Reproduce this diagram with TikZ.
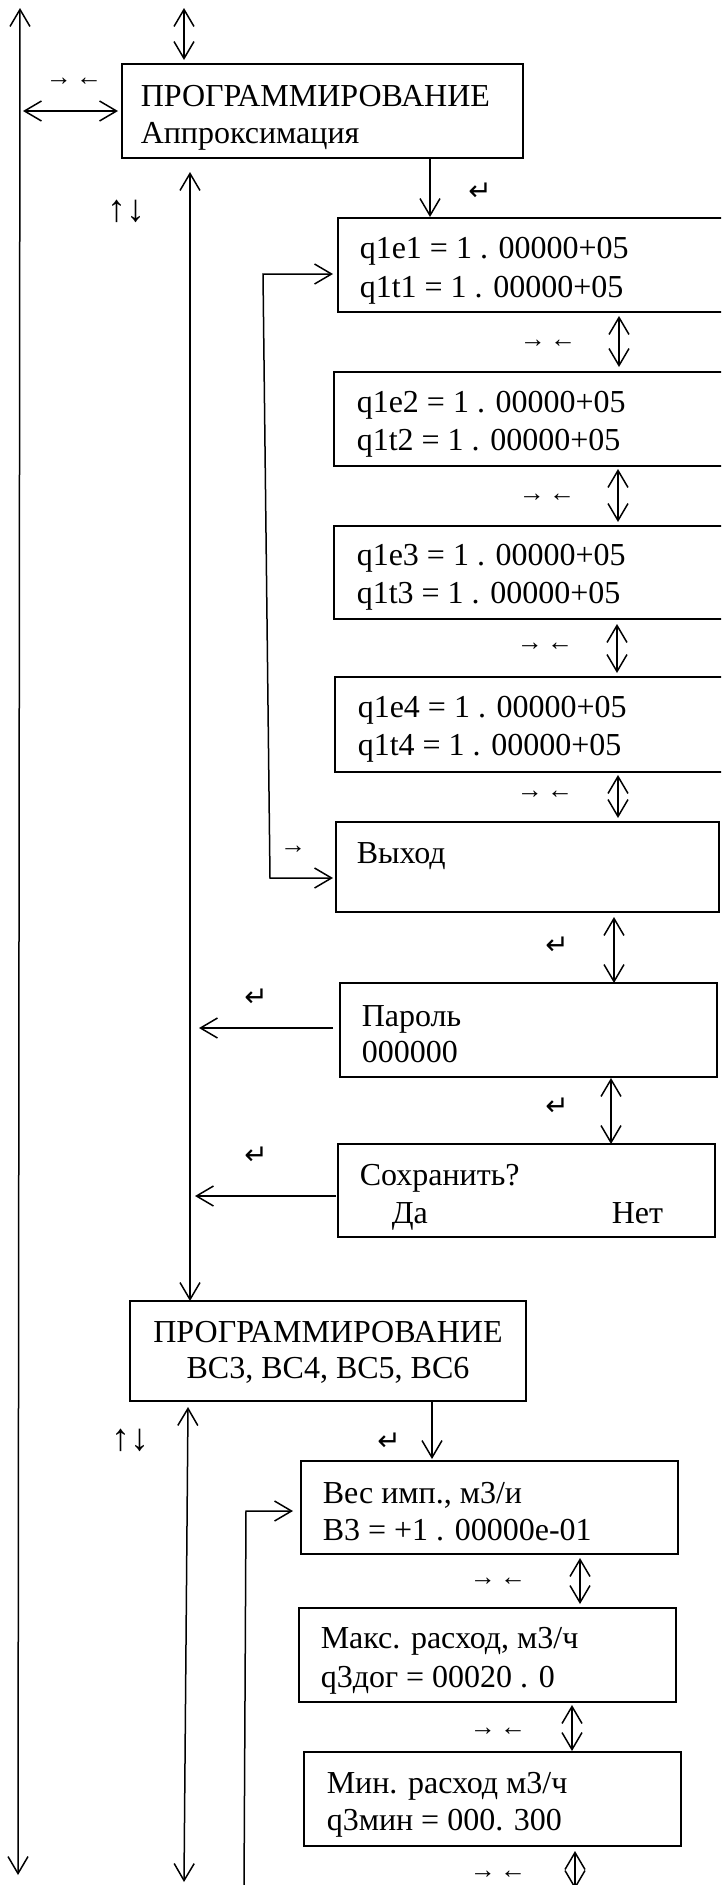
\documentclass[tikz,border=0pt]{standalone}
\usepackage{fontspec}
\setmainfont{Liberation Serif}
\newfontfamily\symfont{DejaVu Sans}
\usetikzlibrary{arrows.meta}
\begin{document}
\begin{tikzpicture}[x=1pt,y=-1pt,
  line width=1.5pt,
  >={Straight Barb[length=17pt,width=20pt]},
  box/.style={draw, line width=1.8pt, rectangle, inner sep=0pt, outer sep=0pt, anchor=north west},
  txt/.style={inner sep=0pt, anchor=base west, font=\fontsize{32}{38}\selectfont},
  ctxt/.style={inner sep=0pt, anchor=base, font=\fontsize{32}{38}\selectfont},
  keys/.style={inner sep=0pt, font=\fontsize{26}{28}\selectfont},
  updn/.style={inner sep=0pt, font=\fontsize{38}{40}\selectfont},
  ent/.style={inner sep=0pt, font=\symfont\fontsize{28}{30}\selectfont},
]
\useasboundingbox (0,0) rectangle (721,1885);
\fill[white] (0,0) rectangle (721,1885);
\clip (0,0) rectangle (721,1885);

% ---------- boxes ----------
\node[box,minimum width=401pt,minimum height=94pt] (b1) at (122,64) {};
\node[txt] (b1a) at (140,106) {ПРОГРАММИРОВАНИЕ};
\node[txt] (b1b) at (140,143) {Аппроксимация};

\node[box,minimum width=420pt,minimum height=94pt] (q1) at (338,218) {};
\node[txt] (q1a) at (359,258) {q1e1 = 1 . 00000+05};
\node[txt] (q1b) at (359,297) {q1t1 = 1 . 00000+05};

\node[box,minimum width=420pt,minimum height=94pt] (q2) at (334,372) {};
\node[txt] (q2a) at (356,412) {q1e2 = 1 . 00000+05};
\node[txt] (q2b) at (356,450) {q1t2 = 1 . 00000+05};

\node[box,minimum width=420pt,minimum height=93pt] (q3) at (334,526) {};
\node[txt] (q3a) at (356,565) {q1e3 = 1 . 00000+05};
\node[txt] (q3b) at (356,603) {q1t3 = 1 . 00000+05};

\node[box,minimum width=420pt,minimum height=95pt] (q4) at (335,677) {};
\node[txt] (q4a) at (357,717) {q1e4 = 1 . 00000+05};
\node[txt] (q4b) at (357,755) {q1t4 = 1 . 00000+05};

\node[box,minimum width=383pt,minimum height=90pt] (ex) at (336,822) {};
\node[txt] (exa) at (356,863) {Выход};

\node[box,minimum width=377pt,minimum height=94pt] (pw) at (340,983) {};
\node[txt] (pwa) at (361,1026) {Пароль};
\node[txt] (pwb) at (361,1062) {000000};

\node[box,minimum width=377pt,minimum height=93pt] (sv) at (338,1144) {};
\node[txt] (sva) at (359,1185) {Сохранить?};
\node[txt] (svb) at (391,1223) {Да};
\node[txt] (svc) at (611,1223) {Нет};

\node[box,minimum width=396pt,minimum height=100pt] (b2) at (130,1301) {};
\node[ctxt] (b2a) at (328,1342) {ПРОГРАММИРОВАНИЕ};
\node[ctxt] (b2b) at (328,1378) {ВС3, ВС4, ВС5, ВС6};

\node[box,minimum width=377pt,minimum height=93pt] (v1) at (301,1461) {};
\node[txt] (v1a) at (322,1503) {Вес имп., м3/и};
\node[txt] (v1b) at (322,1540) {В3 = +1 . 00000е-01};

\node[box,minimum width=377pt,minimum height=94pt] (v2) at (299,1608) {};
\node[txt] (v2a) at (320,1648) {Макс. расход, м3/ч};
\node[txt] (v2b) at (320,1687) {q3дог = 00020 . 0};

\node[box,minimum width=377pt,minimum height=94pt] (v3) at (304,1752) {};
\node[txt] (v3a) at (326,1793) {Мин. расход м3/ч};
\node[txt] (v3b) at (326,1830) {q3мин = 000. 300};

% ---------- key labels ----------
\node[keys] (k1) at (74,82) {→\,←};
\node[keys] (k2) at (548,344) {→\,←};
\node[keys] (k3) at (547,498) {→\,←};
\node[keys] (k4) at (545,647) {→\,←};
\node[keys] (k5) at (545,795) {→\,←};
\node[keys] (k6) at (498,1582) {→\,←};
\node[keys] (k7) at (498,1732) {→\,←};
\node[keys] (k8) at (498,1875) {→\,←};
\node[keys] (k9) at (293,850) {→};
\node[updn] (u1) at (126,211) {↑↓};
\node[updn] (u2) at (130,1440) {↑↓};
\node[ent] (e1) at (480,192) {↵};
\node[ent] (e2) at (557,946) {↵};
\node[ent] (e3) at (557,1107) {↵};
\node[ent] (e4) at (256,998) {↵};
\node[ent] (e5) at (256,1156) {↵};
\node[ent] (e6) at (389,1442) {↵};

% ---------- coordinates ----------
\coordinate (Lt) at (20,8);
\coordinate (Lb) at (18,1875);
\coordinate (Lm) at (23,111);
\coordinate (Tt) at (184,8);
\coordinate (Mt) at (190,172);
\coordinate (xd1) at (430,0);
\coordinate (La) at (263,274);
\coordinate (Lz) at (270,878);
\coordinate (xa1) at (619,0);
\coordinate (xa2) at (618,0);
\coordinate (xa3) at (617,0);
\coordinate (xa4) at (618,0);
\coordinate (xa5) at (614,0);
\coordinate (xa6) at (611,0);
\coordinate (pwT) at (199,1028);
\coordinate (svT) at (195,1196);
\coordinate (xd2) at (432,0);
\coordinate (Nt) at (188,1407);
\coordinate (Nb) at (184,1882);
\coordinate (Va) at (246,1511);
\coordinate (Vz) at (244,1890);
\coordinate (xb1) at (580,0);
\coordinate (xb2) at (572,0);
\coordinate (xb3) at (575,0);
\coordinate (Bz) at (575,1889);

% ---------- connectors ----------
\draw[<->] (Lt) -- (Lb);
\draw[<->, shorten >=4pt] (Lm) -- (b1.west);
\draw[<->, shorten >=4pt] (Tt) -- (Tt |- b1.north);
\draw[<->] (Mt) -- (Mt |- b2.north);
\draw[->, shorten >=1pt] (b1.south -| xd1) -- (q1.north -| xd1);
\draw[<->, shorten <=5pt, shorten >=3pt] (q1.west |- La) -- (La) -- (Lz) -- (ex.west |- Lz);
\draw[<->, shorten <=4pt, shorten >=5pt] (q1.south -| xa1) -- (q2.north -| xa1);
\draw[<->, shorten <=3pt, shorten >=4pt] (q2.south -| xa2) -- (q3.north -| xa2);
\draw[<->, shorten <=5pt, shorten >=4pt] (q3.south -| xa3) -- (q4.north -| xa3);
\draw[<->, shorten <=3pt, shorten >=4pt] (q4.south -| xa4) -- (ex.north -| xa4);
\draw[<->, shorten <=5pt] (ex.south -| xa5) -- (pw.north -| xa5);
\draw[<->, shorten <=1pt] (pw.south -| xa6) -- (sv.north -| xa6);
\draw[->, shorten <=7pt] (pw.west |- pwT) -- (pwT);
\draw[->, shorten <=2pt] (sv.west |- svT) -- (svT);
\draw[->, shorten >=2pt] (b2.south -| xd2) -- (v1.north -| xd2);
\draw[<->] (Nt) -- (Nb);
\draw[->, shorten >=8pt] (Vz) -- (Va) -- (v1.west |- Va);
\draw[<->, shorten <=4pt, shorten >=4pt] (v1.south -| xb1) -- (v2.north -| xb1);
\draw[<->, shorten <=3pt, shorten >=1pt] (v2.south -| xb2) -- (v3.north -| xb2);
\draw[<->, shorten <=5pt] (v3.south -| xb3) -- (Bz);
\end{tikzpicture}
\end{document}
